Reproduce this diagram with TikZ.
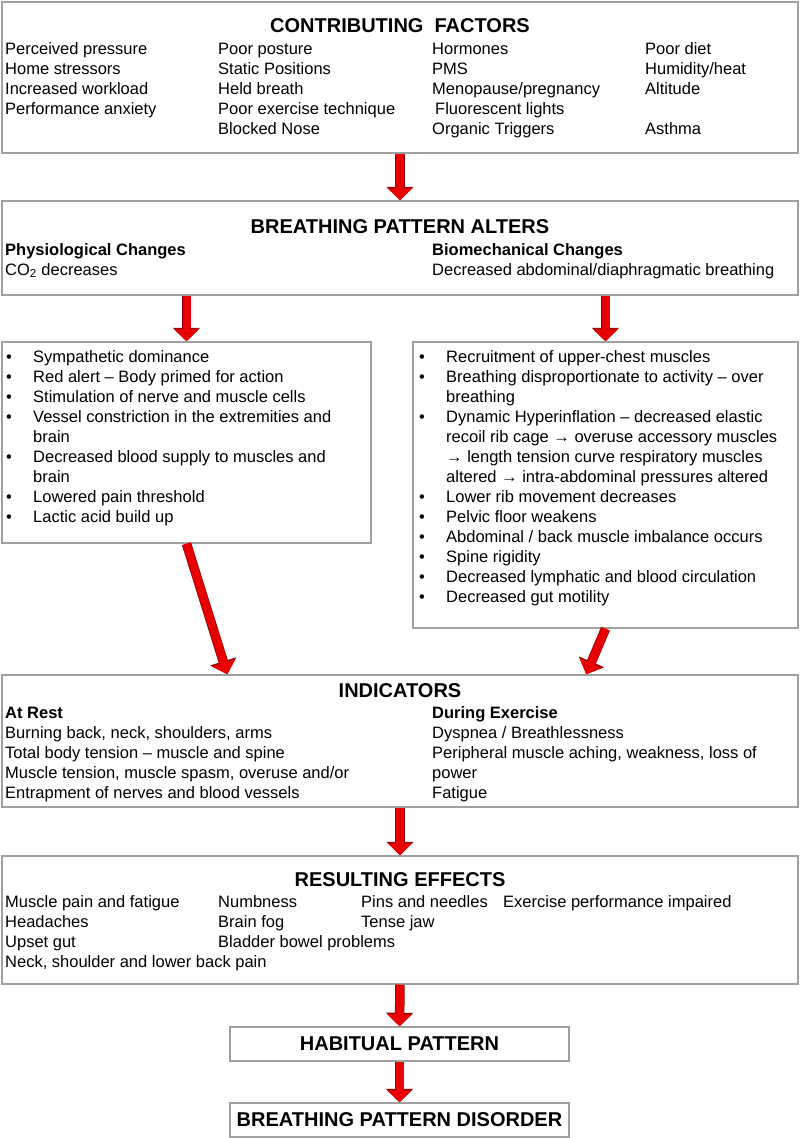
\documentclass[tikz,border=0pt]{standalone}
\usepackage{fontspec}
\setmainfont{Liberation Sans}
\usetikzlibrary{arrows.meta,calc}
\definecolor{boxgray}{RGB}{160,160,160}
\definecolor{arrred}{RGB}{232,0,0}
\definecolor{arrdark}{RGB}{150,0,0}
\newcommand\bodyfnt{\fontsize{16.5}{20}\selectfont}
\newcommand\ttlfnt{\fontsize{20}{24}\selectfont\bfseries}
\newcommand\blt[4]{\node[bul] (#1b) at (#2,#3) {\textbullet}; \node[txt] (#1) at (#2+27,#3) {#4};}
\tikzset{
  box/.style={draw=boxgray, line width=1.5pt, rectangle, inner sep=0pt},
  ttl/.style={font=\ttlfnt, anchor=base, inner sep=0pt},
  txt/.style={font=\bodyfnt, anchor=base west, inner sep=0pt},
  btxt/.style={font=\bodyfnt\bfseries, anchor=base west, inner sep=0pt},
  bul/.style={font=\bodyfnt, anchor=base west, inner sep=0pt},
  flow/.style={line width=8pt, draw=arrred, -{Triangle[width=24pt,length=12pt]},
    preaction={draw=arrdark, line width=9.5pt, -{Triangle[width=26.5pt,length=13.5pt]}}}
}
\begin{document}
\begin{tikzpicture}[x=1pt,y=-1pt]
\useasboundingbox (0,0) rectangle (800,1138);
\fill[white] (0,0) rectangle (800,1138);
% boxes
\node[box, minimum width=796pt, minimum height=151pt] (cf) at (400,77.5) {};
\node[box, minimum width=796pt, minimum height=94pt] (bpa) at (400,248) {};
\node[box, minimum width=369pt, minimum height=201pt] (phys) at (186.5,442.5) {};
\node[box, minimum width=385pt, minimum height=286pt] (bio) at (605.5,485) {};
\node[box, minimum width=796pt, minimum height=132pt] (ind) at (400,741) {};
\node[box, minimum width=796pt, minimum height=128pt] (res) at (400,920) {};
\node[box, minimum width=339pt, minimum height=34pt] (hab) at (399.5,1044) {};
\node[box, minimum width=339pt, minimum height=34pt] (bpd) at (399.5,1120) {};
% contributing factors
\node[ttl] (cft) at (400,32) {CONTRIBUTING~ FACTORS};
\node[txt] (c11) at (5,54) {Perceived pressure};
\node[txt] (c12) at (5,74) {Home stressors};
\node[txt] (c13) at (5,94) {Increased workload};
\node[txt] (c14) at (5,114) {Performance anxiety};
\node[txt] (c21) at (218,54) {Poor posture};
\node[txt] (c22) at (218,74) {Static Positions};
\node[txt] (c23) at (218,94) {Held breath};
\node[txt] (c24) at (218,114) {Poor exercise technique};
\node[txt] (c25) at (218,134) {Blocked Nose};
\node[txt] (c31) at (432,54) {Hormones};
\node[txt] (c32) at (432,74) {PMS};
\node[txt] (c33) at (432,94) {Menopause/pregnancy};
\node[txt] (c34) at (435,114) {Fluorescent lights};
\node[txt] (c35) at (432,134) {Organic Triggers};
\node[txt] (c41) at (645,54) {Poor diet};
\node[txt] (c42) at (645,74) {Humidity/heat};
\node[txt] (c43) at (645,94) {Altitude};
\node[txt] (c45) at (645,134) {Asthma};
% breathing pattern alters
\node[ttl] (bpat) at (400,233) {BREATHING PATTERN ALTERS};
\node[btxt] (b11) at (5,255) {Physiological Changes};
\node[txt] (b12) at (5,275) {CO\textsubscript{2} decreases};
\node[btxt] (b21) at (432,255) {Biomechanical Changes};
\node[txt] (b22) at (432,275) {Decreased abdominal/diaphragmatic breathing};
% physiological list
\blt{p1}{6}{362}{Sympathetic dominance}
\blt{p2}{6}{382}{Red alert – Body primed for action}
\blt{p3}{6}{402}{Stimulation of nerve and muscle cells}
\blt{p4}{6}{422}{Vessel constriction in the extremities and}
\node[txt] (p4c) at (33,442) {brain};
\blt{p5}{6}{462}{Decreased blood supply to muscles and}
\node[txt] (p5c) at (33,482) {brain};
\blt{p6}{6}{502}{Lowered pain threshold}
\blt{p7}{6}{522}{Lactic acid build up}
% biomechanical list
\blt{q1}{419}{362}{Recruitment of upper-chest muscles}
\blt{q2}{419}{382}{Breathing disproportionate to activity – over}
\node[txt] (q2c) at (446,402) {breathing};
\blt{q3}{419}{422}{Dynamic Hyperinflation – decreased elastic}
\node[txt] (q3c) at (446,442) {recoil rib cage → overuse accessory muscles};
\node[txt] (q3d) at (446,462) {→ length tension curve respiratory muscles};
\node[txt] (q3e) at (446,482) {altered → intra-abdominal pressures altered};
\blt{q4}{419}{502}{Lower rib movement decreases}
\blt{q5}{419}{522}{Pelvic floor weakens}
\blt{q6}{419}{542}{Abdominal / back muscle imbalance occurs}
\blt{q7}{419}{562}{Spine rigidity}
\blt{q8}{419}{582}{Decreased lymphatic and blood circulation}
\blt{q9}{419}{602}{Decreased gut motility}
% indicators
\node[ttl] (indt) at (400,697) {INDICATORS};
\node[btxt] (i10) at (5,718) {At Rest};
\node[txt] (i11) at (5,738) {Burning back, neck, shoulders, arms};
\node[txt] (i12) at (5,758) {Total body tension – muscle and spine};
\node[txt] (i13) at (5,778) {Muscle tension, muscle spasm, overuse and/or};
\node[txt] (i14) at (5,798) {Entrapment of nerves and blood vessels};
\node[btxt] (i20) at (432,718) {During Exercise};
\node[txt] (i21) at (432,738) {Dyspnea / Breathlessness};
\node[txt] (i22) at (432,758) {Peripheral muscle aching, weakness, loss of};
\node[txt] (i23) at (432,778) {power};
\node[txt] (i24) at (432,798) {Fatigue};
% resulting effects
\node[ttl] (rest) at (400,886) {RESULTING EFFECTS};
\node[txt] (r11) at (5,907) {Muscle pain and fatigue};
\node[txt] (r12) at (5,927) {Headaches};
\node[txt] (r13) at (5,947) {Upset gut};
\node[txt] (r14) at (5,967) {Neck, shoulder and lower back pain};
\node[txt] (r21) at (218,907) {Numbness};
\node[txt] (r22) at (218,927) {Brain fog};
\node[txt] (r23) at (218,947) {Bladder bowel problems};
\node[txt] (r31) at (361,907) {Pins and needles};
\node[txt] (r32) at (361,927) {Tense jaw};
\node[txt] (r41) at (503,907) {Exercise performance impaired};
% final boxes text
\node[font=\ttlfnt, inner sep=0pt] (habt) at (hab.center) {HABITUAL PATTERN};
\node[font=\ttlfnt, inner sep=0pt] (bpdt) at (bpd.center) {BREATHING PATTERN DISORDER};
% connectors
\coordinate (indl) at ($(ind.north west)+(226,0)$);
\coordinate (indr) at ($(ind.north west)+(585,0)$);
\draw[flow] (cf.south) -- (bpa.north);
\draw[flow] (bpa.south -| phys.north) -- (phys.north);
\draw[flow] (bpa.south -| bio.north) -- (bio.north);
\draw[flow] (phys.south) -- (indl);
\draw[flow] (bio.south) -- (indr);
\draw[flow] (ind.south) -- (res.north);
\draw[flow] (res.south) -- (hab.north);
\draw[flow] (hab.south) -- (bpd.north);
\end{tikzpicture}
\end{document}
